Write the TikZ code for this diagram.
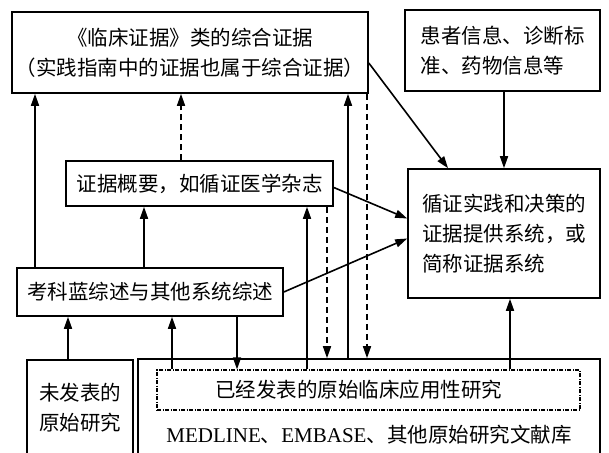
\documentclass[tikz,border=0pt]{standalone}
\usepackage{fontspec}
\setmainfont{Noto Sans CJK SC}
\newfontfamily\latinf{Liberation Serif}
\usetikzlibrary{arrows.meta,calc}
\begin{document}
\begin{tikzpicture}[x=1pt,y=-1pt,
  box/.style={draw, line width=1.6pt, rectangle, inner sep=0pt, font=\fontsize{20.5}{30}\selectfont, align=center},
  arr/.style={line width=1.6pt, -{Triangle[length=12pt,width=8pt]}},
  dsh/.style={arr, dash pattern=on 6pt off 4pt},
  txt/.style={font=\fontsize{20.5}{30}\selectfont, inner sep=0pt}]
\useasboundingbox (0,0) rectangle (609,452);
\fill[white] (0,0) rectangle (609,452);
\clip (0,0) rectangle (609,452);
% boxes
\node[box, minimum width=356pt, minimum height=81pt] (A) at (190,52.5) {《临床证据》类的综合证据\\（实践指南中的证据也属于综合证据）};
\node[box, align=left, minimum width=195pt, minimum height=81pt] (B) at (502.5,50.5) {患者信息、诊断标\\准、药物信息等};
\node[box, align=left, minimum width=192pt, minimum height=129pt] (C) at (504,233.5) {循证实践和决策的\\证据提供系统，或\\简称证据系统};
\node[box, minimum width=267pt, minimum height=45pt] (D) at (199.5,183.5) {证据概要，如循证医学杂志};
\node[box, minimum width=266pt, minimum height=48pt] (E) at (150,292) {考科蓝综述与其他系统综述};
\node[box, minimum width=106pt, minimum height=96pt] (F) at (80,408) {未发表的\\原始研究};
\node[box, minimum width=462pt, minimum height=110pt] (G) at (369,414) {};
\node[txt, draw, line width=1.1pt, dash pattern=on 4pt off 1.5pt on 1pt off 1.5pt, minimum width=423pt, minimum height=40pt] (H) at (368.5,390) {已经发表的原始临床应用性研究\hspace*{20pt}};
\node[txt] (M) at (369,435) {{\latinf\fontsize{21}{30}\selectfont MEDLINE}、{\latinf\fontsize{21}{30}\selectfont EMBASE}、其他原始研究文献库};
% x positions
\coordinate (x35) at (35,0);
\coordinate (x68) at (68,0);
\coordinate (x144) at (144,0);
\coordinate (x172) at (172,0);
\coordinate (x181) at (181,0);
\coordinate (x237) at (237,0);
\coordinate (x307) at (307,0);
\coordinate (x327) at (327,0);
\coordinate (x348) at (348,0);
\coordinate (x367) at (367,0);
\coordinate (x448) at (448,0);
\coordinate (x504) at (504,0);
\coordinate (x510) at (510,0);
% vertical connectors
\draw[arr] (x35 |- E.north) -- (x35 |- A.south);
\draw[arr] (x144 |- E.north) -- (x144 |- D.south);
\draw[dsh] (x181 |- D.north) -- (x181 |- A.south);
\draw[arr] (x307 |- H.north) -- (x307 |- D.south);
\draw[dsh] (x327 |- D.south) -- (x327 |- G.north);
\draw[arr] (x348 |- G.north) -- (x348 |- A.south);
\draw[dsh] (x367 |- A.south) -- (x367 |- G.north);
\draw[arr] (x68 |- F.north) -- (x68 |- E.south);
\draw[arr] (x172 |- H.north) -- (x172 |- E.south);
\draw[arr] (x237 |- E.south) -- (x237 |- H.north);
\draw[arr] (x510 |- H.north) -- (x510 |- C.south);
\draw[arr] (x504 |- B.south) -- (x504 |- C.north);
% diagonal connectors
\draw[arr] ($(A.east)+(0,10.5)$) -- (x448 |- C.north);
\draw[arr] ($(D.east)+(0,4)$) -- ($(C.west)+(0,-15)$);
\draw[arr] (E.east) -- ($(C.west)+(0,5)$);
\end{tikzpicture}
\end{document}
